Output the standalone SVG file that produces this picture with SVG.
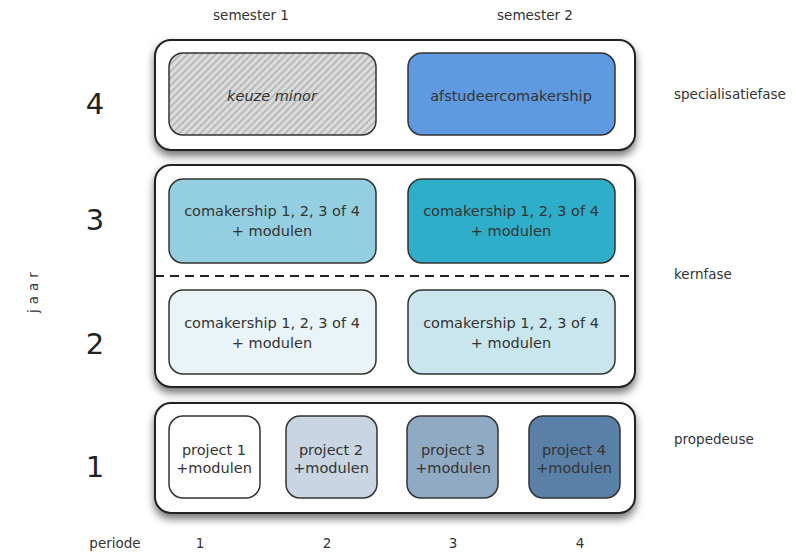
<svg xmlns="http://www.w3.org/2000/svg" width="796" height="552" viewBox="0 0 796 552">
<defs>
<filter id="sh" x="-10%" y="-20%" width="120%" height="150%">
<feDropShadow dx="0" dy="5" stdDeviation="4" flood-color="#000" flood-opacity="0.55"/>
</filter>
<pattern id="hatch" width="5" height="5" patternUnits="userSpaceOnUse" patternTransform="rotate(45)">
<rect width="5" height="5" fill="#dcdcdc"/>
<rect width="2" height="5" fill="#b9b9b9"/>
</pattern>
<style>
.outer{fill:#fff;stroke:#222;stroke-width:2;filter:url(#sh)}
.box{stroke:#333;stroke-width:1.5}
text{font-family:"DejaVu Sans","Open Sans","Liberation Sans",sans-serif;fill:#333}
.t{font-size:14.5px;text-anchor:middle}
.s{font-size:13.5px}
.big{font-size:29px;text-anchor:middle;fill:#222}
</style>
</defs>
<g id="headers">
<text class="s" x="251" y="20" text-anchor="middle">semester 1</text>
<text class="s" x="535" y="20" text-anchor="middle">semester 2</text>
</g>
<g id="year-labels">
<text class="big" x="95" y="114">4</text>
<text class="big" x="95" y="230">3</text>
<text class="big" x="95" y="354">2</text>
<text class="big" x="95" y="477">1</text>
<text class="s" transform="translate(38,290) rotate(-90)" text-anchor="middle" letter-spacing="5" font-size="14">jaar</text>
</g>
<g id="phase-labels">
<text class="s" x="674" y="99">specialisatiefase</text>
<text class="s" x="674" y="279">kernfase</text>
<text class="s" x="674" y="444">propedeuse</text>
</g>
<g id="periods">
<text class="s" x="115" y="548" text-anchor="middle">periode</text>
<text class="s" x="200" y="548" text-anchor="middle">1</text>
<text class="s" x="327" y="548" text-anchor="middle">2</text>
<text class="s" x="453" y="548" text-anchor="middle">3</text>
<text class="s" x="580" y="548" text-anchor="middle">4</text>
</g>
<g id="specialisatiefase">
<rect class="outer" x="155" y="40" width="480" height="110" rx="16"/>
<g id="keuze-minor">
<rect class="box" x="169" y="53" width="207" height="82" rx="14" fill="url(#hatch)"/>
<text class="t" x="272" y="101" font-style="italic" fill="#555">keuze minor</text>
</g>
<g id="afstudeer">
<rect class="box" x="408" y="53" width="207" height="82" rx="14" fill="#5f9ae0"/>
<text class="t" x="511" y="101">afstudeercomakership</text>
</g>
</g>
<g id="kernfase">
<rect class="outer" x="155" y="165" width="480" height="222" rx="16"/>
<g id="connectors">
<line x1="155" y1="276" x2="635" y2="276" stroke="#222" stroke-width="2" stroke-dasharray="9,6"/>
</g>
<g id="y3s1">
<rect class="box" x="169" y="179" width="207" height="84" rx="14" fill="#93cfe1"/>
<text class="t" x="272" y="216">comakership 1, 2, 3 of 4</text>
<text class="t" x="272" y="236">+ modulen</text>
</g>
<g id="y3s2">
<rect class="box" x="408" y="179" width="207" height="84" rx="14" fill="#2eaec8"/>
<text class="t" x="511" y="216">comakership 1, 2, 3 of 4</text>
<text class="t" x="511" y="236">+ modulen</text>
</g>
<g id="y2s1">
<rect class="box" x="169" y="290" width="207" height="84" rx="14" fill="#e8f4f8"/>
<text class="t" x="272" y="328">comakership 1, 2, 3 of 4</text>
<text class="t" x="272" y="348">+ modulen</text>
</g>
<g id="y2s2">
<rect class="box" x="408" y="290" width="207" height="84" rx="14" fill="#c9e6ee"/>
<text class="t" x="511" y="328">comakership 1, 2, 3 of 4</text>
<text class="t" x="511" y="348">+ modulen</text>
</g>
</g>
<g id="propedeuse">
<rect class="outer" x="155" y="403" width="480" height="110" rx="16"/>
<g id="p1">
<rect class="box" x="169" y="416" width="91" height="82" rx="14" fill="#fff"/>
<text class="t" x="214" y="455">project 1</text>
<text class="t" x="214" y="473">+modulen</text>
</g>
<g id="p2">
<rect class="box" x="286" y="416" width="91" height="82" rx="14" fill="#c9d5e2"/>
<text class="t" x="331" y="455">project 2</text>
<text class="t" x="331" y="473">+modulen</text>
</g>
<g id="p3">
<rect class="box" x="407" y="416" width="91" height="82" rx="14" fill="#91aac4"/>
<text class="t" x="453" y="455">project 3</text>
<text class="t" x="453" y="473">+modulen</text>
</g>
<g id="p4">
<rect class="box" x="529" y="416" width="91" height="82" rx="14" fill="#5a80a7"/>
<text class="t" x="574" y="455">project 4</text>
<text class="t" x="574" y="473">+modulen</text>
</g>
</g>
</svg>
